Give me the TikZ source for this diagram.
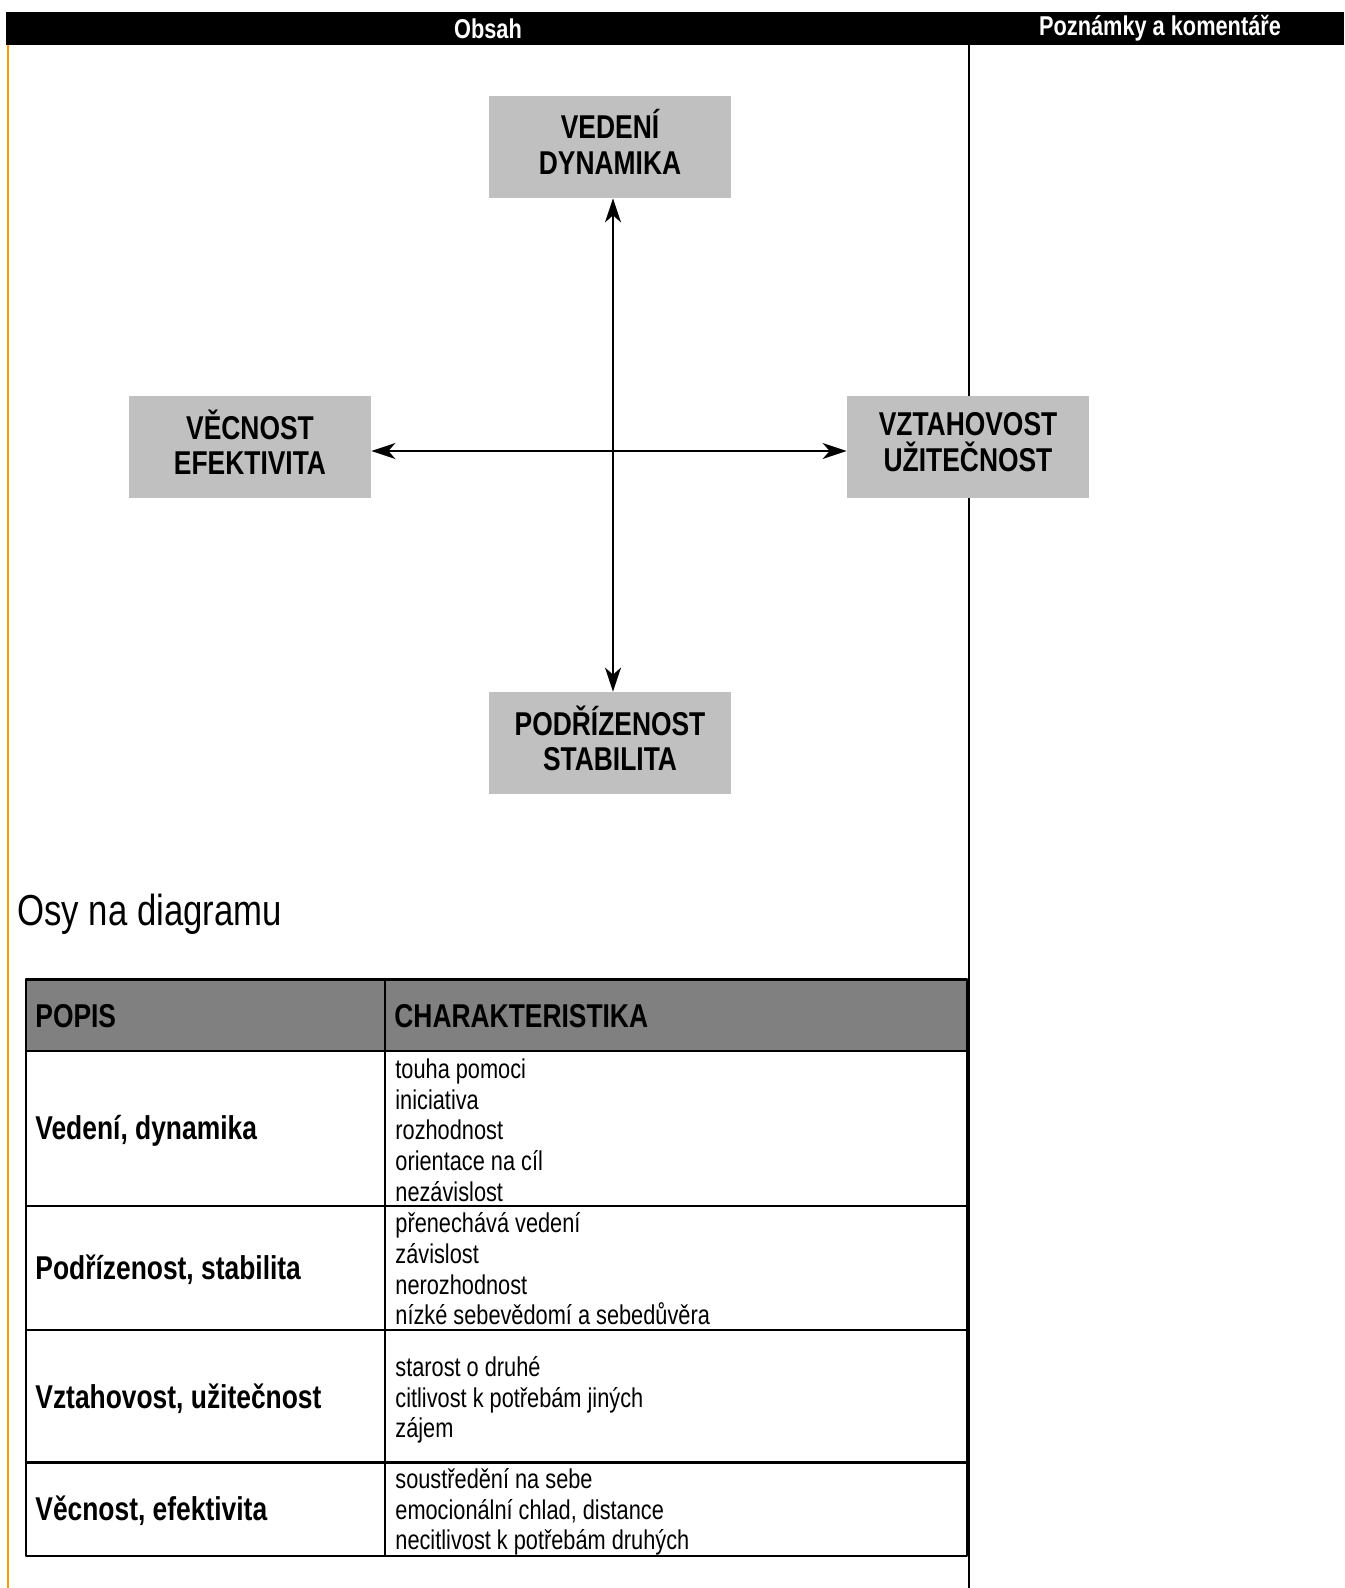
\documentclass[tikz,border=0pt]{standalone}
\usepackage{fontspec}
\setmainfont{Liberation Sans}[FakeStretch=0.8]
\usetikzlibrary{arrows.meta,positioning}
\definecolor{boxgray}{RGB}{192,192,192}
\definecolor{headgray}{RGB}{128,128,128}
\definecolor{marginorange}{RGB}{245,155,0}
\tikzset{
	pole/.style={fill=boxgray, minimum width=121pt, minimum height=51pt, inner sep=0pt, text depth=5pt, align=center, font=\fontsize{16.5}{17.75}\selectfont\bfseries},
	cell/.style={anchor=west, inner sep=0pt, align=left},
	bigcell/.style={cell, font=\fontsize{16.5}{18}\selectfont\bfseries},
	smallcell/.style={cell, font=\fontsize{13.6}{15.35}\selectfont},
	rule/.style={line width=1.1pt},
}
\begin{document}
\begin{tikzpicture}[x=0.5pt, y=-0.5pt, line join=round, >={Stealth[length=12pt,width=8pt,inset=3.5pt]}]
	\useasboundingbox (0,0) rectangle (1344,1588);
	\path
	(6,12) coordinate (BL)
	(1344,45) coordinate (BR)
	(26.3,979.4) coordinate (T1)
	(967.2,1555.7) coordinate (T2)
	(384.9,979.4) coordinate (C1)
	(384.9,1555.7) coordinate (C2)
	;
	\fill (BL) rectangle (BR);
	\node[text=white, font=\fontsize{13.6}{16}\selectfont\bfseries] (obsah) at (488,28.5) {Obsah};
	\node[text=white, font=\fontsize{13.6}{16}\selectfont\bfseries] (pozn) at (1160,28.5) {Poznámky a komentáře};
	\draw[marginorange, line width=1pt] (8,45) coordinate (O1) -- (8,1588) coordinate (O2);
	\draw[line width=1pt] (969,45) coordinate (D1) -- (969,1588) coordinate (D2);
	\node[pole] (ved) at (610,147) {VEDENÍ\\DYNAMIKA};
	\node[pole] (pod) at (610,743) {PODŘÍZENOST\\STABILITA};
	\node[pole] (vec) at (250,447) {VĚCNOST\\EFEKTIVITA};
	\node[pole] (vzt) at (968,447) {VZTAHOVOST\\UŽITEČNOST};
	\draw[<->, line width=1pt] ([xshift=1.5pt]ved.south) -- ([xshift=1.5pt]pod.north);
	\draw[<->, line width=1pt] ([yshift=-2pt]vec.east) -- ([yshift=-2pt]vzt.west);
	\node[anchor=base west, inner sep=0pt, font=\fontsize{21.7}{26}\selectfont] (osy) at (17,925) {Osy na diagramu};
	\filldraw[fill=headgray, rule] (T1) rectangle (967.2,1051.3);
	\draw[rule] (T1) rectangle (T2);
	\foreach \y in {1206.2,1329.8,1462.5}
		{\draw[rule] (26.3,\y) -- (967.2,\y);}
	\draw[rule] (C1) -- (C2);
	\node[bigcell] (popis) at (35,1016) {POPIS};
	\node[bigcell] (char) at (394,1016) {CHARAKTERISTIKA};
	\foreach \n/\y/\t in {vd/1131/{Vedení, dynamika}, ps/1270/{Podřízenost, stabilita}, vu/1398.5/{Vztahovost, užitečnost}, ve/1510.5/{Věcnost, efektivita}}
		{\node[bigcell] (\n) at (35,\y) {\t};}
	\node[smallcell] (vdlist) at (395,1130) {touha pomoci\\iniciativa\\rozhodnost\\orientace na cíl\\nezávislost};
	\node[smallcell] (pslist) at (395,1269) {přenechává vedení\\závislost\\nerozhodnost\\nízké sebevědomí a sebedůvěra};
	\node[smallcell] (vulist) at (395,1400) {starost o druhé\\citlivost k potřebám jiných\\zájem};
	\node[smallcell] (velist) at (395,1512) {soustředění na sebe\\emocionální chlad, distance\\necitlivost k potřebám druhých};
\end{tikzpicture}
\end{document}
